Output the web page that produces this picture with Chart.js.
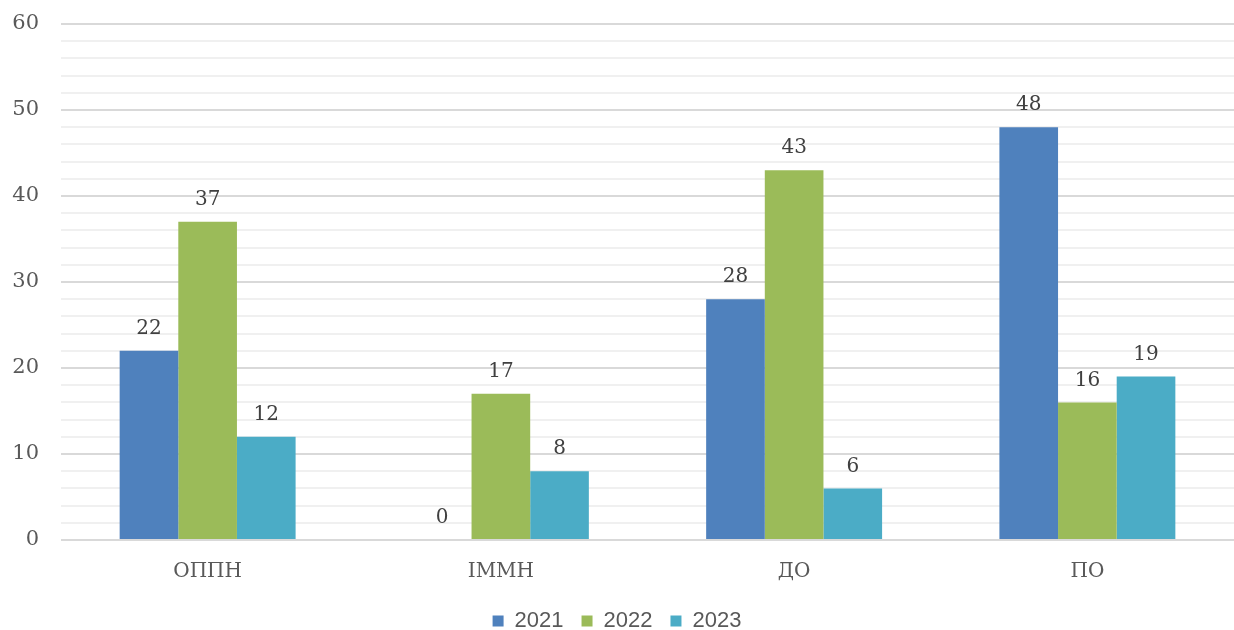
<!DOCTYPE html>
<html>
<head>
<meta charset="utf-8">
<script src="https://cdn.jsdelivr.net/npm/chart.js@4/dist/chart.umd.min.js"></script>
<style>
  html, body { margin: 0; padding: 0; background: #fff; }
  .chart-wrapper { width: 1234px; height: 630px; position: relative; }
</style>
</head>
<body>
<div class="chart-wrapper"><canvas id="bar-chart"></canvas></div>
<script>
const categories = ['ОППН', 'ІММН', 'ДО', 'ПО'];
const years = ['2021', '2022', '2023'];
const values2021 = [22, 0, 28, 48];
const values2022 = [37, 17, 43, 16];
const values2023 = [12, 8, 6, 19];
const yMax = 60;
const yStep = 2;
const yLabelStep = 10;

const colors = ['#4F81BD', '#9BBB59', '#4BACC6'];
const serif = "'DejaVu Serif', 'Liberation Serif', serif";
const sans = "'Liberation Sans', 'DejaVu Sans', sans-serif";

// simple value labels above each bar
const valueLabels = {
  id: 'valueLabels',
  afterDatasetsDraw(chart) {
    const { ctx } = chart;
    ctx.save();
    ctx.font = '20px ' + serif;
    ctx.fillStyle = '#404040';
    ctx.textAlign = 'center';
    ctx.textBaseline = 'bottom';
    chart.data.datasets.forEach((ds, i) => {
      chart.getDatasetMeta(i).data.forEach((bar, j) => {
        ctx.fillText(ds.data[j], bar.x, bar.y - 12);
      });
    });
    ctx.restore();
  },
};

const seriesValues = [values2021, values2022, values2023];

new Chart(document.getElementById('bar-chart').getContext('2d'), {
  type: 'bar',
  data: {
    labels: categories,
    datasets: years.map((y, i) => ({
      label: y,
      data: seriesValues[i],
      backgroundColor: colors[i],
      borderWidth: 0,
      categoryPercentage: 0.6,
      barPercentage: 1.0,
    })),
  },
  options: {
    responsive: true,
    maintainAspectRatio: false,
    animation: false,
    layout: { padding: { top: 24, right: 0, left: 0, bottom: -12 } },
    plugins: {
      tooltip: { enabled: false },
      legend: {
        position: 'bottom',
        labels: {
          color: '#595959',
          font: { size: 22, family: sans },
          boxWidth: 11,
          boxHeight: 11,
          padding: 18,
        },
      },
    },
    scales: {
      x: {
        afterFit: s => { s.height -= 4; },
        grid: { display: false },
        border: { display: false },
        ticks: { color: '#595959', font: { size: 20, family: serif }, padding: 12 },
      },
      y: {
        min: 0,
        max: yMax,
        afterFit: s => { s.width = 61; s.paddingTop = 0; s.paddingBottom = 0; },
        border: { display: false },
        grid: {
          drawTicks: false,
          lineWidth: 2,
          color: c => (c.tick.value % yLabelStep === 0 ? '#d9d9d9' : '#f0f0f0'),
        },
        ticks: {
          stepSize: yStep,
          autoSkip: false,
          padding: 22,
          color: '#595959',
          font: { size: 21, family: serif },
          callback: v => (v % yLabelStep === 0 ? v : ''),
        },
      },
    },
  },
  plugins: [valueLabels],
});
</script>
</body>
</html>
